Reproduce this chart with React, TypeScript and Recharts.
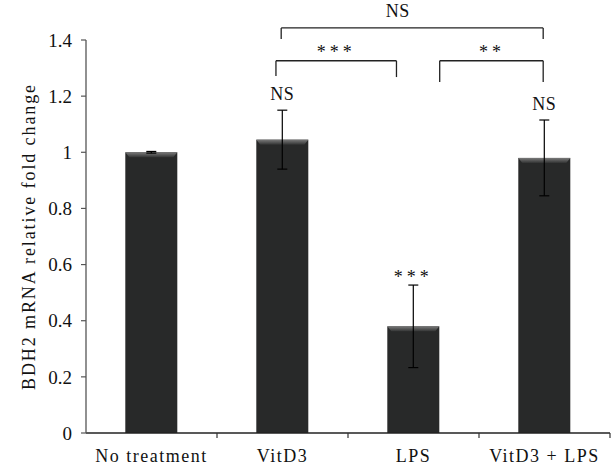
import React from "react";
import {
  BarChart,
  Bar,
  XAxis,
  YAxis,
  ErrorBar,
  ReferenceLine,
  ReferenceDot,
  Label,
  LabelList,
} from "recharts";

const FONT = '"Liberation Serif", "Times New Roman", serif';

const categories = ["No treatment", "VitD3", "LPS", "VitD3 + LPS"];
const categoryPos = [0.5, 1.5, 2.5, 3.5];
const foldChange = [1.0, 1.045, 0.38, 0.98];
const foldError = [0.003, 0.105, 0.147, 0.135];
const barMarks = ["", "NS", "***", "NS"];
const yTicks = [0, 0.2, 0.4, 0.6, 0.8, 1, 1.2, 1.4];

// comparison brackets: x in category units (0..4), y in fold change
const bracketText = ["NS", "***", "**"];
const bracketFrom = [1.49, 1.45, 2.7];
const bracketTo = [3.49, 2.37, 3.49];
const bracketTop = [1.443, 1.326, 1.326];
const bracketFromEnd = [1.404, 1.272, 1.25];
const bracketToEnd = [1.404, 1.268, 1.25];
const bracketTextX = [2.38, 1.91, 3.1];
const bracketTextY = [1.482, 1.336, 1.336];

const data = categories.map((name, i) => ({
  name,
  pos: categoryPos[i],
  value: foldChange[i],
  err: foldError[i],
  mark: barMarks[i],
}));

const BevelBar = (props: any) => {
  const { x, y, width, height } = props;
  const b = Math.min(5, height);
  return (
    <g>
      <rect x={x} y={y} width={width} height={height} fill="#282929" />
      <polygon
        points={`${x},${y} ${x + width},${y} ${x + width - 4},${y + b} ${x + 4},${y + b}`}
        fill="url(#bevel)"
      />
    </g>
  );
};

const XTick = (props: any) => {
  const { x, y, payload } = props;
  const edge = x + (payload.offset ?? 0);
  return (
    <g>
      <line x1={edge} x2={edge} y1={y} y2={y + 5} stroke="#333" strokeWidth={1.2} />
      <text
        x={x}
        y={y + 29}
        textAnchor="middle"
        fontFamily={FONT}
        fontSize={18}
        letterSpacing={1.5}
        fill="#111"
      >
        {payload.value}
      </text>
    </g>
  );
};

const MarkLabel = (props: any) => {
  const { x, y, width, height, value, index } = props;
  if (!value) return null;
  const perUnit = height / foldChange[index];
  const errTop = y - foldError[index] * perUnit;
  const stars = value.indexOf("*") >= 0;
  return (
    <text
      x={x + width / 2}
      y={errTop - (stars ? 2 : 10)}
      textAnchor="middle"
      fontFamily={FONT}
      fontSize={18}
      letterSpacing={stars ? 4 : 0.5}
      fill="#111"
    >
      {value}
    </text>
  );
};

export default function App() {
  return (
    <div style={{ position: "absolute", left: 0, top: 0, background: "#fff" }}>
      <BarChart
        width={613}
        height={467}
        data={data}
        margin={{ top: 40, right: 3, bottom: 0, left: 0 }}
        barCategoryGap="30%"
      >
        <defs>
          <linearGradient id="bevel" x1="0" y1="0" x2="0" y2="1">
            <stop offset="0%" stopColor="#7a7a7a" />
            <stop offset="100%" stopColor="#333434" />
          </linearGradient>
        </defs>
        <XAxis
          dataKey="name"
          height={34}
          tickSize={0}
          tickMargin={0}
          tickLine={false}
          axisLine={{ stroke: "#222", strokeWidth: 1.3 }}
          tick={<XTick />}
          interval={0}
        />
        <XAxis
          xAxisId="n"
          dataKey="pos"
          type="number"
          scale="linear"
          domain={[0, 4]}
          allowDataOverflow
          hide
        />
        <YAxis
          width={86}
          domain={[0, 1.4]}
          ticks={yTicks}
          interval={0}
          tickSize={5}
          tickMargin={9}
          axisLine={{ stroke: "#555", strokeWidth: 1.3 }}
          tickLine={{ stroke: "#555", strokeWidth: 1.2 }}
          tick={{ fontFamily: FONT, fontSize: 19, fill: "#111" }}
        >
          <Label
            content={(p: any) => {
              const vb = p.viewBox;
              const cx = vb.x + 35;
              const cy = vb.y + vb.height / 2;
              return (
                <text
                  x={cx}
                  y={cy}
                  transform={`rotate(-90 ${cx} ${cy})`}
                  textAnchor="middle"
                  fontFamily={FONT}
                  fontSize={18}
                  letterSpacing={1.9}
                  fill="#111"
                >
                  BDH2 mRNA relative fold change
                </text>
              );
            }}
          />
        </YAxis>
        <Bar dataKey="value" shape={<BevelBar />} isAnimationActive={false}>
          <ErrorBar dataKey="err" width={5} stroke="#000" strokeWidth={1.2} isAnimationActive={false} />
          <LabelList dataKey="mark" content={<MarkLabel />} />
        </Bar>
        {bracketText.map((t, i) => (
          <ReferenceLine
            key={`h${i}`}
            xAxisId="n"
            ifOverflow="visible"
            segment={[
              { x: bracketFrom[i], y: bracketTop[i] },
              { x: bracketTo[i], y: bracketTop[i] },
            ]}
            stroke="#222"
            strokeWidth={1.3}
          />
        ))}
        {bracketText.map((t, i) => (
          <ReferenceLine
            key={`l${i}`}
            xAxisId="n"
            ifOverflow="visible"
            segment={[
              { x: bracketFrom[i], y: bracketTop[i] },
              { x: bracketFrom[i], y: bracketFromEnd[i] },
            ]}
            stroke="#222"
            strokeWidth={1.3}
          />
        ))}
        {bracketText.map((t, i) => (
          <ReferenceLine
            key={`r${i}`}
            xAxisId="n"
            ifOverflow="visible"
            segment={[
              { x: bracketTo[i], y: bracketTop[i] },
              { x: bracketTo[i], y: bracketToEnd[i] },
            ]}
            stroke="#222"
            strokeWidth={1.3}
          />
        ))}
        {bracketText.map((t, i) => (
          <ReferenceDot
            key={`t${i}`}
            xAxisId="n"
            x={bracketTextX[i]}
            y={bracketTextY[i]}
            ifOverflow="visible"
            shape={(p: any) => (
              <text
                x={p.cx}
                y={p.cy}
                textAnchor="middle"
                fontFamily={FONT}
                fontSize={18}
                letterSpacing={t.indexOf("*") >= 0 ? 4 : 0.5}
                fill="#111"
              >
                {t}
              </text>
            )}
          />
        ))}
      </BarChart>
    </div>
  );
}
